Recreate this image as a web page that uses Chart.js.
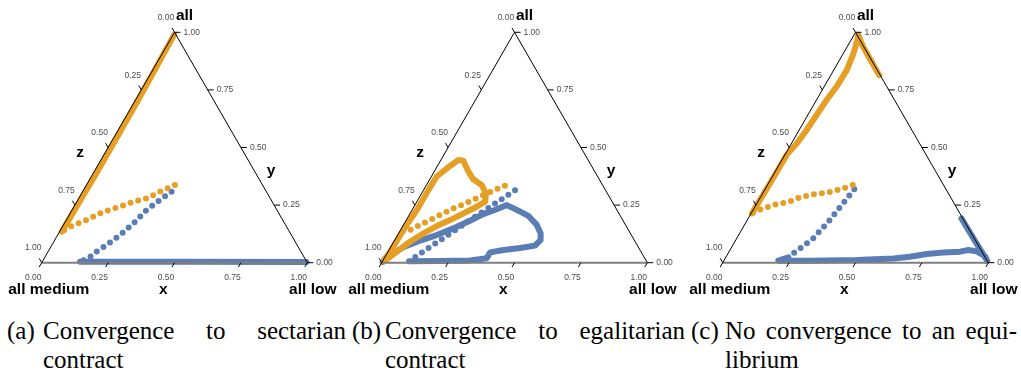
<!DOCTYPE html>
<html>
<head>
<meta charset="utf-8">
<script src="https://cdn.jsdelivr.net/npm/chart.js@4.4.1/dist/chart.umd.min.js"></script>
<style>
body { margin: 0; background: #fff; }
#fig { position: relative; width: 1021px; height: 374px; overflow: hidden; }
#fig canvas { position: absolute; top: 0; }
.cap { position: absolute; font-family: "Liberation Serif", "Times New Roman", serif; font-size: 25px; line-height: 30px; color: #000; white-space: nowrap; }
.l1 { text-align: justify; text-align-last: justify; }
</style>
</head>
<body>
<div id="fig">
  <canvas id="chartA" width="340" height="300" style="left:0px"></canvas>
  <canvas id="chartB" width="340" height="300" style="left:340px"></canvas>
  <canvas id="chartC" width="340" height="300" style="left:681px"></canvas>

  <div class="cap" style="left:7px;top:316px">(a)</div>
  <div class="cap l1" style="left:43px;top:316px;width:303px">Convergence to sectarian</div>
  <div class="cap" style="left:43px;top:345px">contract</div>

  <div class="cap" style="left:352px;top:316px">(b)</div>
  <div class="cap l1" style="left:385px;top:316px;width:300px">Convergence to egalitarian</div>
  <div class="cap" style="left:385px;top:345px">contract</div>

  <div class="cap" style="left:691px;top:316px">(c)</div>
  <div class="cap l1" style="left:725px;top:316px;width:292px">No convergence to an equi-</div>
  <div class="cap" style="left:725px;top:345px">librium</div>
</div>

<script>
// ternary axes
var tickValues = [0, 0.25, 0.5, 0.75, 1];
var tickLabels = ['0.00', '0.25', '0.50', '0.75', '1.00'];
var axisNames = ['x', 'y', 'z'];
var cornerNames = ['all medium', 'all low', 'all'];

// trajectories, points are [x, y] shares (z = 1 - x - y)
// (a) sectarian
var aOrangeDots = [[0.333,0.337],[0.291,0.308],[0.256,0.279],[0.213,0.265],[0.173,0.243],[0.121,0.221],[0.077,0.185],[0.029,0.156],[0.008,0.135]];
var aOrangeBand = [[0.008,0.135],[0.012,0.40],[0.010,0.70],[0.004,0.99]];
var aBlueDots = [[0.335,0.308],[0.309,0.272],[0.281,0.229],[0.260,0.171],[0.235,0.120],[0.206,0.077],[0.183,0.048],[0.166,0.019],[0.142,0.004]];
var aBlueBand = [[0.142,0.004],[0.50,0.004],[0.995,0.003]];

// (b) egalitarian
var bOrangeDots = [[0.297,0.334],[0.264,0.313],[0.227,0.287],[0.190,0.260],[0.152,0.236],[0.116,0.207],[0.080,0.178],[0.049,0.153],[0.027,0.135]];
var bOrangeBand = [[0.003,0.005],[0.008,0.048],[0.010,0.106],[0.012,0.164],[0.018,0.229],[0.018,0.315],[0.020,0.373],[0.040,0.409],[0.066,0.446],[0.086,0.443],[0.129,0.395],[0.164,0.362],[0.208,0.337],[0.242,0.301],[0.257,0.265],[0.236,0.243],[0.201,0.214],[0.165,0.185],[0.128,0.159],[0.093,0.127],[0.061,0.091],[0.033,0.048],[0.008,0.009]];
var bBlueDots = [[0.345,0.314],[0.217,0.156],[0.100,0.006]];
var bBlueBand = [[0.100,0.006],[0.203,0.007],[0.328,0.010],[0.386,0.019],[0.386,0.045],[0.431,0.055],[0.489,0.064],[0.540,0.074],[0.549,0.098],[0.535,0.127],[0.502,0.164],[0.451,0.203],[0.394,0.229],[0.346,0.250],[0.317,0.232],[0.277,0.211],[0.241,0.182],[0.195,0.149],[0.147,0.120],[0.097,0.096],[0.048,0.067],[0.003,0.019],[0.002,0.003]];

// (c) no convergence
var cOrangeDots = [[0.321,0.337],[0.283,0.318],[0.240,0.304],[0.193,0.297],[0.149,0.284],[0.111,0.261],[0.076,0.255],[0.046,0.240],[0.015,0.226],[0.003,0.214]];
var cOrangeBand = [[0.003,0.214],[0.006,0.345],[0.007,0.468],[0.020,0.518],[0.028,0.576],[0.033,0.641],[0.038,0.706],[0.047,0.764],[0.049,0.836],[0.038,0.909],[0.024,0.967],[0.015,0.990],[0.060,0.937],[0.120,0.877],[0.182,0.814]];
var cBlueDots = [[0.336,0.319],[0.323,0.251],[0.309,0.178],[0.288,0.106],[0.264,0.067],[0.246,0.041],[0.236,0.023]];
var cBlueBand = [[0.236,0.023],[0.205,0.009],[0.324,0.009],[0.499,0.012],[0.634,0.018],[0.692,0.026],[0.749,0.038],[0.809,0.044],[0.870,0.048],[0.897,0.055],[0.932,0.049],[0.973,0.029],[0.992,0.008],[0.900,0.097],[0.803,0.192]];

var orange = '#E69F25';
var blue = '#5A7DB5';

function toXY(p) {
  return { x: p[0] + p[1] / 2, y: p[1] };
}

function dots(pts, color) {
  return {
    data: pts.map(toXY), showLine: true, borderColor: color, borderWidth: 6,
    borderDash: [0, 8], borderCapStyle: 'round', borderJoinStyle: 'round',
    pointRadius: 0, clip: false
  };
}

function band(pts, color) {
  return {
    data: pts.map(toXY), showLine: true, borderColor: color, borderWidth: 6,
    borderDash: [10000], borderCapStyle: 'round', borderJoinStyle: 'round',
    pointRadius: 0, clip: false
  };
}

var ternaryFrame = {
  id: 'ternaryFrame',
  afterDatasetsDraw: function (chart) {
    var c = chart.ctx, sx = chart.scales.x, sy = chart.scales.y;
    var h = Math.sqrt(3) / 2;
    function P(tx, ty) {
      return [sx.getPixelForValue(tx + ty / 2), sy.getPixelForValue(ty)];
    }
    function tick(p, dx, dy, len) {
      c.beginPath();
      c.moveTo(p[0], p[1]);
      c.lineTo(p[0] + dx * len, p[1] + dy * len);
      c.stroke();
    }
    var bl = P(0, 0), br = P(1, 0), top = P(0, 1);
    c.save();
    c.strokeStyle = '#7f7f7f';
    c.lineWidth = 2;
    c.beginPath(); c.moveTo(bl[0], bl[1]); c.lineTo(br[0], br[1]); c.stroke();
    c.strokeStyle = '#000';
    c.lineWidth = 1;
    c.beginPath(); c.moveTo(bl[0], bl[1]); c.lineTo(top[0], top[1]); c.lineTo(br[0], br[1]); c.stroke();

    c.font = '8.5px "Liberation Sans", Arial, sans-serif';
    c.fillStyle = '#4d4d4d';
    c.textBaseline = 'middle';
    tickValues.forEach(function (t, i) {
      // x along the bottom
      var p = P(t, 0);
      tick(p, -0.5, h, 5);
      c.textAlign = 'center';
      c.fillText(tickLabels[i], p[0] - 0.5 * 17, p[1] + h * 17);
      // y on the right
      p = P(1 - t, t);
      tick(p, 1, 0, 6);
      c.textAlign = 'left';
      c.fillText(tickLabels[i], p[0] + 9, p[1]);
      // z on the left
      p = P(0, 1 - t);
      tick(p, -0.5, -h, 5);
      c.textAlign = 'center';
      c.fillText(tickLabels[i], p[0] - 0.5 * 17, p[1] - h * 17);
    });

    c.fillStyle = '#000';
    c.font = 'bold 15.5px "Liberation Sans", Arial, sans-serif';
    c.textAlign = 'center';
    var px = P(0.458, 0), py = P(0.6, 0.4), pz = P(0, 0.478);
    c.fillText(axisNames[0], px[0], px[1] + 27);
    c.fillText(axisNames[1], py[0] + 17, py[1]);
    c.fillText(axisNames[2], pz[0] - 25, pz[1]);
    c.fillText(cornerNames[0], bl[0] + 7, bl[1] + 27);
    c.fillText(cornerNames[1], br[0] + 5.5, br[1] + 27);
    c.fillText(cornerNames[2], top[0] + 10, top[1] - 17);
    c.restore();
  }
};

function makeChart(id, sets) {
  return new Chart(document.getElementById(id), {
    type: 'scatter',
    data: { datasets: sets },
    options: {
      responsive: false,
      animation: false,
      devicePixelRatio: 1,
      layout: { padding: { left: 41.7, right: 32.7, top: 32.3, bottom: 37.3 } },
      scales: {
        x: { type: 'linear', min: 0, max: 1, display: false },
        y: { type: 'linear', min: 0, max: 1, display: false }
      },
      plugins: { legend: { display: false }, tooltip: { enabled: false } }
    },
    plugins: [ternaryFrame]
  });
}

makeChart('chartA', [dots(aOrangeDots, orange), band(aOrangeBand, orange), dots(aBlueDots, blue), band(aBlueBand, blue)]);
makeChart('chartB', [dots(bOrangeDots, orange), band(bOrangeBand, orange), dots(bBlueDots, blue), band(bBlueBand, blue)]);
makeChart('chartC', [dots(cOrangeDots, orange), band(cOrangeBand, orange), dots(cBlueDots, blue), band(cBlueBand, blue)]);
</script>
</body>
</html>
